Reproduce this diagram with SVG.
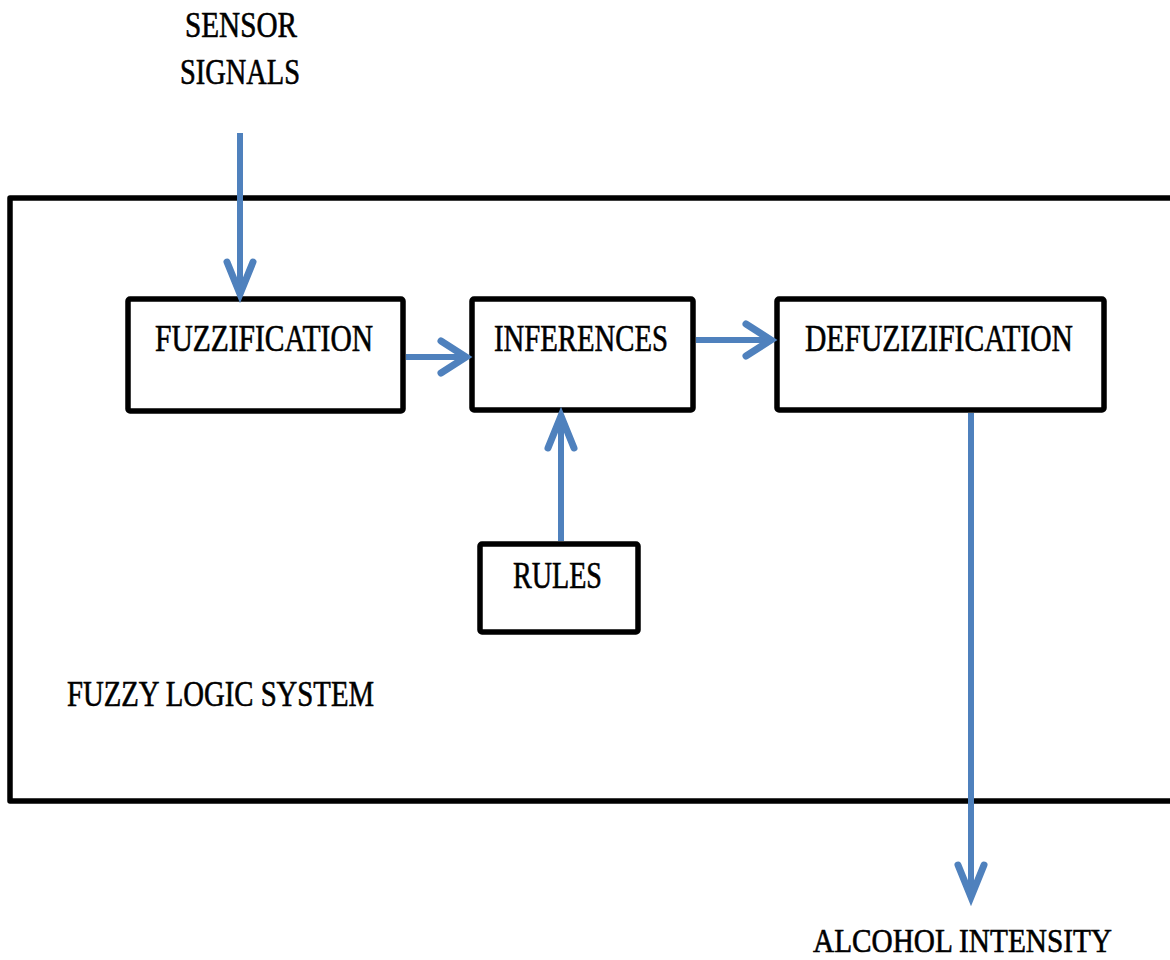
<svg xmlns="http://www.w3.org/2000/svg" width="1170" height="960" viewBox="0 0 1170 960">
<style>
.box{fill:none;stroke:#000;stroke-width:5.5;stroke-linejoin:round}
.lbl{font-family:"Liberation Serif","DejaVu Serif",serif;fill:#000;stroke:#000;stroke-width:0.6}
.conn{stroke:#4f81bd;stroke-width:6;fill:none}
</style>
<defs>
<marker id="ah" markerUnits="userSpaceOnUse" orient="auto" overflow="visible" markerWidth="40" markerHeight="40" refX="0" refY="0">
<path d="M-25,-16 L0,0 L-25,16" fill="none" stroke="#4f81bd" stroke-width="7" stroke-linecap="round" stroke-linejoin="miter"/>
</marker>
<marker id="av" markerUnits="userSpaceOnUse" orient="auto" overflow="visible" markerWidth="40" markerHeight="40" refX="0" refY="0">
<path d="M-32,-13 L0,0 L-32,13" fill="none" stroke="#4f81bd" stroke-width="7" stroke-linecap="round" stroke-linejoin="miter"/>
</marker>
</defs>
<rect width="1170" height="960" fill="#fff"/>
<g id="system">
<path d="M1172,198 L10,198 L10,801 L1172,801" class="box"/>
<text class="lbl" x="67" y="706" font-size="36" textLength="307" lengthAdjust="spacingAndGlyphs">FUZZY LOGIC SYSTEM</text>
</g>
<g id="sensor">
<text class="lbl" x="185" y="37" font-size="35" textLength="112" lengthAdjust="spacingAndGlyphs">SENSOR</text>
<text class="lbl" x="180" y="84" font-size="35" textLength="120" lengthAdjust="spacingAndGlyphs">SIGNALS</text>
</g>
<g id="fuzzification">
<rect class="box" x="128" y="299" width="275" height="112" rx="2"/>
<text class="lbl" x="155" y="351" font-size="37" textLength="218" lengthAdjust="spacingAndGlyphs">FUZZIFICATION</text>
</g>
<g id="inferences">
<rect class="box" x="472" y="299" width="221" height="111" rx="2"/>
<text class="lbl" x="494" y="351" font-size="37" textLength="174" lengthAdjust="spacingAndGlyphs">INFERENCES</text>
</g>
<g id="defuzification">
<rect class="box" x="777" y="299" width="327" height="111" rx="2"/>
<text class="lbl" x="805" y="351" font-size="37" textLength="268" lengthAdjust="spacingAndGlyphs">DEFUZIZIFICATION</text>
</g>
<g id="rules">
<rect class="box" x="480" y="544" width="158" height="88" rx="2"/>
<text class="lbl" x="513" y="588" font-size="37" textLength="89" lengthAdjust="spacingAndGlyphs">RULES</text>
</g>
<g id="alcohol">
<text class="lbl" x="813" y="952" font-size="34" textLength="299" lengthAdjust="spacingAndGlyphs">ALCOHOL INTENSITY</text>
</g>
<g id="connectors">
<line class="conn" x1="240" y1="133" x2="240" y2="294" marker-end="url(#av)"/>
<line class="conn" x1="406" y1="357" x2="466" y2="357" marker-end="url(#ah)"/>
<line class="conn" x1="696" y1="340" x2="771" y2="340" marker-end="url(#ah)"/>
<line class="conn" x1="561" y1="541" x2="561" y2="416" marker-end="url(#av)"/>
<line class="conn" x1="971" y1="413" x2="971" y2="897" marker-end="url(#av)"/>
</g>
</svg>
